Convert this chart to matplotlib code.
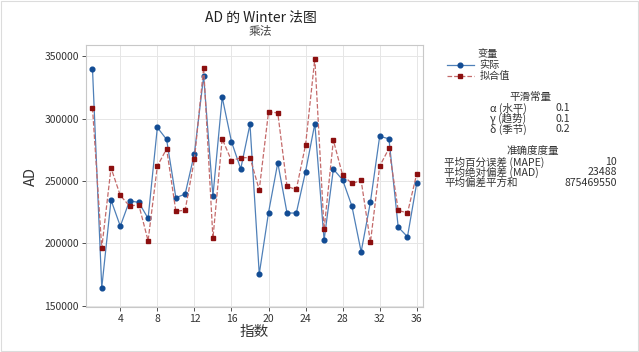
import numpy as np
import matplotlib
matplotlib.use('Agg')
import matplotlib.pyplot as plt

plt.rcParams['font.family'] = ['Noto Sans CJK SC', 'DejaVu Sans']

index = np.arange(1, 37)
actual = [339800, 164400, 234700, 213800, 234100, 232800, 220000, 292900, 283300,
          236600, 239500, 272000, 334200, 237900, 317200, 281600, 259700, 295500,
          175400, 224600, 264600, 224300, 224300, 257600, 296000, 202600, 259500,
          250900, 229900, 193200, 233100, 285900, 283800, 213000, 205300, 248500]
fitted = [308600, 196200, 260500, 238400, 229900, 230900, 202100, 261900, 275800,
          225700, 226600, 267300, 340900, 204000, 283800, 266400, 268600, 268800,
          242900, 305400, 304600, 245600, 243200, 279000, 348100, 211100, 282700,
          254700, 248000, 250400, 200800, 261900, 276100, 226500, 224300, 255800]

xticks = [4, 8, 12, 16, 20, 24, 28, 32, 36]
yticks = [150000, 200000, 250000, 300000, 350000]

smooth_names = ['α (水平)', 'γ (趋势)', 'δ (季节)']
smooth_vals = ['0.1', '0.1', '0.2']
acc_names = ['平均百分误差 (MAPE)', '平均绝对偏差 (MAD)', '平均偏差平方和']
acc_vals = ['10', '23488', '875469550']

fig = plt.figure(figsize=(6.39, 3.52), dpi=100)
ax = fig.add_axes([0.1346, 0.128, 0.527, 0.744])

ax.plot(index, actual, color='#4f80b8', lw=0.9, marker='o', ms=3.4,
        mfc='#124c94', mec='#124c94', label='实际', zorder=3)
ax.plot(index, fitted, color='#c46a6a', lw=0.9, ls='--', marker='s', ms=3.4,
        mfc='#8c0f0f', mec='#8c0f0f', label='拟合值', zorder=3)

ax.set_xlim(0.3, 36.65)
ax.set_ylim(149000, 359000)
ax.set_xticks(xticks)
ax.set_yticks(yticks)
ax.tick_params(labelsize=7.5, colors='#333333', length=3, width=0.6, pad=2)
ax.grid(True, color='#e6e6e6', lw=0.7)
ax.set_axisbelow(True)
for s in ax.spines.values():
    s.set_color('#c8c8c8')
    s.set_linewidth(0.8)

ax.set_xlabel('指数', fontsize=10.5, color='#333333', labelpad=1)
ax.set_ylabel('AD', fontsize=10.5, color='#333333', labelpad=5)

fig.text(0.408, 0.950, 'AD 的 Winter 法图', ha='center', va='center', fontsize=10, color='#222222')
fig.text(0.408, 0.910, '乘法', ha='center', va='center', fontsize=8.5, color='#444444')

leg = fig.legend(loc='upper left', bbox_to_anchor=(0.692, 0.875), frameon=False,
                 title='变量', fontsize=7.3, title_fontsize=7.3, handlelength=2.6,
                 labelspacing=0.1, borderpad=0, handletextpad=0.6, alignment='left')
for t in leg.get_texts():
    t.set_color('#333333')
leg.get_title().set_color('#333333')
leg.get_title().set_position((30, 0))

W, H = 639.0, 352.0
fs = 7.6
fig.text(530 / W, 1 - 97 / H, '平滑常量', ha='center', va='center', fontsize=fs, color='#333333')
for i, (n, v) in enumerate(zip(smooth_names, smooth_vals)):
    y = 1 - (108 + i * 10.5) / H
    fig.text(490 / W, y, n, ha='left', va='center', fontsize=fs, color='#333333')
    fig.text(556 / W, y, v, ha='left', va='center', fontsize=fs, color='#333333')

fig.text(533 / W, 1 - 152 / H, '准确度度量', ha='center', va='center', fontsize=fs, color='#333333')
for i, (n, v) in enumerate(zip(acc_names, acc_vals)):
    y = 1 - (162 + i * 10.3) / H
    fig.text(444 / W, y, n, ha='left', va='center', fontsize=fs, color='#333333')
    fig.text(617 / W, y, v, ha='right', va='center', fontsize=fs, color='#333333')

fig.patches.append(plt.Rectangle((0.002, 0.004), 0.996, 0.992, transform=fig.transFigure,
                                 fill=False, ec='#dcdcdc', lw=0.8))

fig.savefig('out.png', dpi=100)
